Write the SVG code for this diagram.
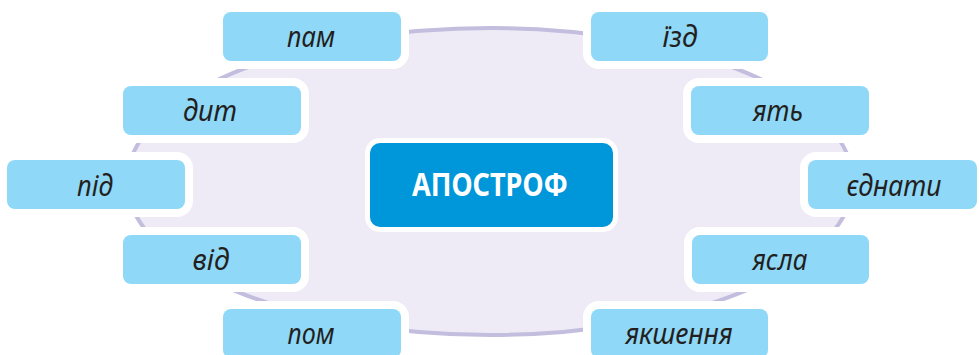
<svg xmlns="http://www.w3.org/2000/svg" width="979" height="355" viewBox="0 0 979 355">
<style>
.bg{fill:#EEEBF7;stroke:#C3BDDE;stroke-width:4}
.box{fill:#8FD8F7;stroke:#FFFFFF;stroke-width:16;paint-order:stroke fill}
.lbl{font-family:"Noto Sans","Open Sans",sans-serif;font-style:italic;font-size:30px;fill:#231F20;text-anchor:middle}
.main{fill:#0096DA;stroke:#FFFFFF;stroke-width:10;paint-order:stroke fill}
.mtxt{font-family:"Noto Sans","Liberation Sans",sans-serif;font-weight:bold;font-size:32px;fill:#FFFFFF;text-anchor:middle}
</style>
<rect width="979" height="355" fill="#FFFFFF"/>
<g id="connectors"/>
<g id="background"><ellipse class="bg" cx="490" cy="181.5" rx="363" ry="153.5"/></g>
<g id="center"><rect class="main" x="370" y="143" width="243" height="84" rx="10"/><text class="mtxt" x="490" y="196" textLength="156" lengthAdjust="spacingAndGlyphs">АПОСТРОФ</text></g>
<g id="n-pam"><rect class="box" x="223" y="12" width="178" height="49" rx="8"/><text class="lbl" x="311" y="47" textLength="48" lengthAdjust="spacingAndGlyphs">пам</text></g>
<g id="n-izd"><rect class="box" x="591" y="12" width="177" height="49" rx="8"/><text class="lbl" x="680" y="47" textLength="35" lengthAdjust="spacingAndGlyphs">їзд</text></g>
<g id="n-dyt"><rect class="box" x="123" y="86" width="178" height="49" rx="8"/><text class="lbl" x="210" y="121" textLength="54" lengthAdjust="spacingAndGlyphs">дит</text></g>
<g id="n-yat"><rect class="box" x="691" y="86" width="178" height="49" rx="8"/><text class="lbl" x="778" y="121" textLength="50" lengthAdjust="spacingAndGlyphs">ять</text></g>
<g id="n-pid"><rect class="box" x="7" y="160" width="178" height="49" rx="8"/><text class="lbl" x="95" y="196" textLength="36" lengthAdjust="spacingAndGlyphs">під</text></g>
<g id="n-yednaty"><rect class="box" x="808" y="160" width="169" height="49" rx="8"/><text class="lbl" x="894" y="196" textLength="95" lengthAdjust="spacingAndGlyphs">єднати</text></g>
<g id="n-vid"><rect class="box" x="123" y="235" width="178" height="49" rx="8"/><text class="lbl" x="211" y="270" textLength="37" lengthAdjust="spacingAndGlyphs">від</text></g>
<g id="n-yasla"><rect class="box" x="692" y="235" width="177" height="49" rx="8"/><text class="lbl" x="780" y="270" textLength="55" lengthAdjust="spacingAndGlyphs">ясла</text></g>
<g id="n-pom"><rect class="box" x="223" y="309" width="178" height="49" rx="8"/><text class="lbl" x="311" y="344" textLength="47" lengthAdjust="spacingAndGlyphs">пом</text></g>
<g id="n-yakshennia"><rect class="box" x="591" y="309" width="177" height="49" rx="8"/><text class="lbl" x="679" y="344" textLength="107" lengthAdjust="spacingAndGlyphs">якшення</text></g>
</svg>
